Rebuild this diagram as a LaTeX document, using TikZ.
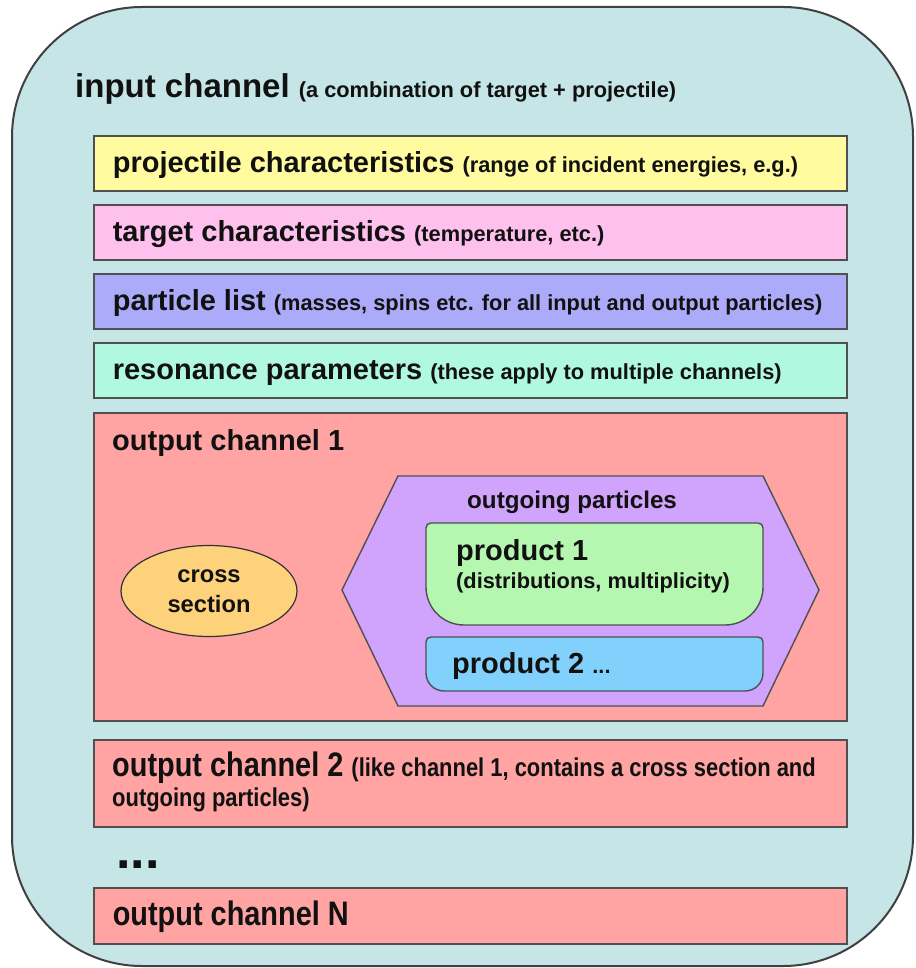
\documentclass[tikz,border=0pt]{standalone}
\usepackage{fontspec}
\setmainfont{Liberation Sans}
\newfontfamily\narrowsans[FakeStretch=0.85]{Liberation Sans}
\usetikzlibrary{shapes.geometric}

\definecolor{paleteal}{HTML}{C5E5E6}
\definecolor{paleyellow}{HTML}{FFFB9E}
\definecolor{palepink}{HTML}{FEC0EC}
\definecolor{paleviolet}{HTML}{ABABF9}
\definecolor{palemint}{HTML}{B0F8E0}
\definecolor{salmon}{HTML}{FFA3A3}
\definecolor{paleorange}{HTML}{FDD27A}
\definecolor{lavender}{HTML}{D0A3FC}
\definecolor{palegreen}{HTML}{B5F7B0}
\definecolor{skyblue}{HTML}{82D0FC}
\definecolor{edgegray}{HTML}{505050}
\definecolor{inkblack}{HTML}{111111}

\newcommand{\titlesize}{\fontsize{33}{36}\selectfont\bfseries}
\newcommand{\labelsize}{\fontsize{29}{30}\selectfont\bfseries}
\newcommand{\notesize}{\fontsize{21.8}{30}\selectfont\bfseries}
\newcommand{\narrowlabel}{\narrowsans\fontsize{34}{30}\selectfont\bfseries}
\newcommand{\narrownote}{\narrowsans\fontsize{25.8}{30}\selectfont\bfseries}

\begin{document}
\begin{tikzpicture}[x=1pt,y=-1pt,
    every node/.style={text=inkblack},
    layerbox/.style={draw=edgegray, line width=1.6pt, anchor=north west,
      minimum width=753pt, minimum height=55pt, text width=715pt,
      inner xsep=19pt, inner ysep=0pt, align=flush left,
      text height=22pt, text depth=3pt,
      font=\fontsize{29}{30}\selectfont\bfseries},
    caption/.style={anchor=base west, inner sep=0pt}]

\def\FRAMECOLOR{paleteal}
\def\CHANNELCOLOR{salmon}
\useasboundingbox (0,0) rectangle (915,968);

	% input channel frame
	\filldraw[fill=\FRAMECOLOR, draw=black!75, line width=2pt, rounded corners=130pt] (12,7) rectangle (913,966);
	\node[caption] (inputlabel) at (75,98) {\titlesize input channel {\notesize (a combination of target + projectile)}};

	% shared data
	\node[layerbox, fill=paleyellow] (projectile) at (93,135) {projectile characteristics {\notesize (range of incident energies, e.g.)}};
	\node[layerbox, fill=palepink] (target) at (93,204) {target characteristics {\notesize (temperature, etc.)}};
	\node[layerbox, fill=paleviolet] (particles) at (93,273) {particle list {\notesize (masses, spins etc. for all input and output particles)}};
	\node[layerbox, fill=palemint] (resonances) at (93,342) {resonance parameters {\notesize (these apply to multiple channels)}};

	% output channel 1
	\node[layerbox, fill=\CHANNELCOLOR, minimum height=308pt] (channelone) at (93,412) {};
	\node[caption] (channelonelabel) at (112,450) {\labelsize output channel 1};
	\node[ellipse, draw=black!80, line width=1.2pt, fill=paleorange, minimum width=176pt, minimum height=91pt,
	      inner sep=0pt, align=center, font=\fontsize{23.7}{30}\selectfont\bfseries] (xsection) at (209,591) {cross\\section};

	\filldraw[fill=lavender, draw=edgegray, line width=1.4pt] (398,476) -- (763,476) -- (819,590) -- (763,706) -- (398,706) -- (342,590) -- cycle;
	\node[caption] (outgoinglabel) at (467,508) {\fontsize{24.2}{30}\selectfont\bfseries outgoing particles};

	\filldraw[fill=palegreen, draw=edgegray, line width=1.4pt] (431,523) -- (758,523) .. controls (761,523) and (763,525) .. (763,528)
	  -- (763,587) .. controls (763,608) and (746,625) .. (725,625) -- (464,625) .. controls (443,625) and (426,608) .. (426,587)
	  -- (426,528) .. controls (426,525) and (428,523) .. (431,523) -- cycle;
	\node[caption] (productone) at (456,560) {\labelsize product 1};
	\node[caption] (productonenote) at (456,588) {\notesize (distributions, multiplicity)};

	\filldraw[fill=skyblue, draw=edgegray, line width=1.4pt] (431,637) -- (758,637) .. controls (761,637) and (763,639) .. (763,642)
	  -- (763,673) .. controls (763,683) and (755,691) .. (745,691) -- (444,691) .. controls (434,691) and (426,683) .. (426,673)
	  -- (426,642) .. controls (426,639) and (428,637) .. (431,637) -- cycle;
	\node[caption] (producttwo) at (452,673) {\labelsize product 2 {\notesize ...}};

	% further output channels
	\node[layerbox, fill=\CHANNELCOLOR, minimum height=87pt] (channeltwo) at (93,739) {};
	\node[anchor=north west, inner sep=0pt, text width=740pt, align=flush left, font=\fontsize{29}{30}\selectfont\bfseries] (channeltwolabel) at (112,752)
	  {{\narrowlabel output channel 2} {\narrownote (like channel 1, contains a cross section and}\\{\narrownote outgoing particles)}};
	\node[caption] (moredots) at (116,868) {\fontsize{52}{52}\selectfont\bfseries ...};
	\node[layerbox, fill=\CHANNELCOLOR, minimum height=56pt] (channeln) at (93,887) {\narrowlabel output channel N};

\end{tikzpicture}
\end{document}
